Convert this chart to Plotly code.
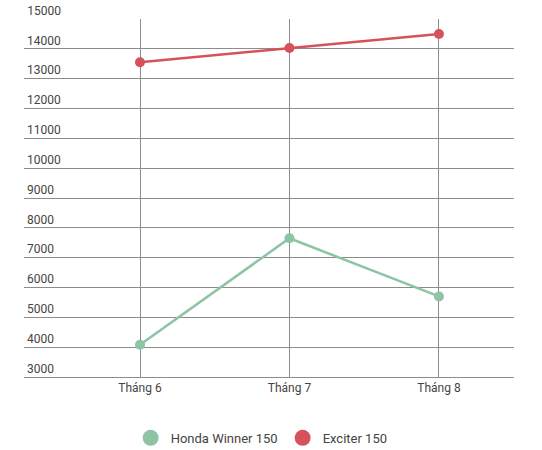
import plotly.graph_objs as go

# Dữ liệu
thang = ['Tháng 6', 'Tháng 7', 'Tháng 8']
honda_winner = [4080, 7650, 5700]
exciter = [13550, 14030, 14500]
y_ticks = list(range(3000, 16000, 1000))

mau_honda = '#8cc4a4'
mau_exciter = '#d6525a'

fig = go.Figure()
fig.add_trace(go.Scatter(x=thang, y=honda_winner, mode='lines+markers', name='Honda Winner 150',
                         line=dict(color=mau_honda, width=2.5), marker=dict(size=10), showlegend=False))
fig.add_trace(go.Scatter(x=thang, y=exciter, mode='lines+markers', name='Exciter 150',
                         line=dict(color=mau_exciter, width=2.5), marker=dict(size=10), showlegend=False))
# chú thích chỉ có chấm tròn (trên trục y2 để trục này được vẽ)
fig.add_trace(go.Scatter(x=[None], y=[None], mode='markers', name='Honda Winner 150',
                         marker=dict(color=mau_honda, size=16), yaxis='y2'))
fig.add_trace(go.Scatter(x=[None], y=[None], mode='markers', name='Exciter 150',
                         marker=dict(color=mau_exciter, size=16), yaxis='y2'))

fig.update_layout(
    width=542, height=450,
    margin=dict(l=24, r=28, t=19, b=73, autoexpand=False),
    plot_bgcolor='white', paper_bgcolor='white',
    font=dict(family='Roboto', size=12, color='#444444'),
    showlegend=True,
    legend=dict(orientation='h', x=0.485, xanchor='center', yref='container', y=0.027, yanchor='middle',
                font=dict(size=13, color='#444444'), itemwidth=30),
    xaxis=dict(type='category', range=[-0.776, 2.502], showgrid=True, gridcolor='#8c8c8c',
               gridwidth=1, showline=True, linecolor='#8c8c8c', ticks='', zeroline=False,
               automargin=False, tickfont=dict(size=12, color='#444444')),
    # nhãn trục y nằm trong, phía trên đường lưới
    yaxis=dict(range=[3000, 15000], tickvals=y_ticks, tickformat='d', showgrid=True,
               gridcolor='#8c8c8c', gridwidth=1, ticklabelposition='inside top',
               ticks='', zeroline=False, showline=False, automargin=False,
               tickfont=dict(size=12, color='#444444')),
    # trục phụ chỉ để hiện nhãn 15000 ở mép trên
    yaxis2=dict(overlaying='y', side='left', range=[3000, 15000], tickvals=[15000], tickformat='d',
                showgrid=False, ticklabelposition='outside', ticklabelstandoff=-38,
                ticklabelshift=-8, ticks='', zeroline=False, showline=False, automargin=False,
                tickfont=dict(size=12, color='#444444')),
)

# bỏ lề mặc định của trang
fig.write_html('out.html', config={'displayModeBar': False},
               post_script="document.body.style.margin='0px';")
